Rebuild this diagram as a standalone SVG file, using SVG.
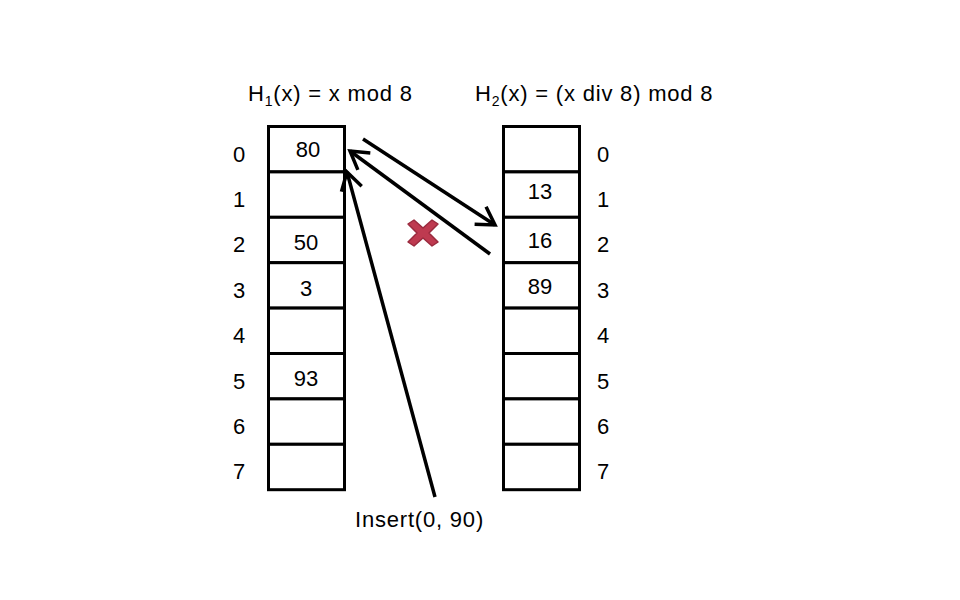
<svg xmlns="http://www.w3.org/2000/svg" width="960" height="600" viewBox="0 0 960 600">
<defs>
<style>
text{font-family:"Liberation Sans",Arial,sans-serif;font-size:22px;letter-spacing:0.8px;fill:#000}
.cell{fill:#fff;stroke:#000;stroke-width:3}
.num{text-anchor:middle;letter-spacing:0}
.arr{stroke:#000;stroke-width:3.5;fill:none;marker-end:url(#ah)}
</style>
<marker id="ah" markerWidth="8" markerHeight="8" refX="6" refY="4" orient="auto" markerUnits="strokeWidth" viewBox="0 0 8 8">
<path d="M1,1 L6,4 L1,7" fill="none" stroke="#000" stroke-width="1" stroke-linejoin="miter"/>
</marker>
</defs>
<rect width="960" height="600" fill="#fff"/>
<g id="title1"><text x="248" y="101">H<tspan font-size="14" dy="5">1</tspan><tspan dy="-5">(x) = x mod 8</tspan></text></g>
<g id="title2"><text x="475" y="101">H<tspan font-size="14" dy="5">2</tspan><tspan dy="-5">(x) = (x div 8) mod 8</tspan></text></g>
<g id="table1">
<rect class="cell" x="268.5" y="126.5" width="76" height="45.4"/>
<rect class="cell" x="268.5" y="171.9" width="76" height="45.4"/>
<rect class="cell" x="268.5" y="217.3" width="76" height="45.4"/>
<rect class="cell" x="268.5" y="262.7" width="76" height="45.4"/>
<rect class="cell" x="268.5" y="308.1" width="76" height="45.4"/>
<rect class="cell" x="268.5" y="353.5" width="76" height="45.4"/>
<rect class="cell" x="268.5" y="398.9" width="76" height="45.4"/>
<rect class="cell" x="268.5" y="444.3" width="76" height="45.4"/>
<text class="num" x="308" y="157">80</text>
<text class="num" x="306" y="250">50</text>
<text class="num" x="306" y="296">3</text>
<text class="num" x="306" y="386">93</text>
</g>
<g id="labels1">
<text class="num" x="239" y="162">0</text>
<text class="num" x="239" y="207">1</text>
<text class="num" x="239" y="252">2</text>
<text class="num" x="239" y="298">3</text>
<text class="num" x="239" y="343">4</text>
<text class="num" x="239" y="389">5</text>
<text class="num" x="239" y="434">6</text>
<text class="num" x="239" y="479">7</text>
</g>
<g id="table2">
<rect class="cell" x="503.5" y="126.5" width="76" height="45.4"/>
<rect class="cell" x="503.5" y="171.9" width="76" height="45.4"/>
<rect class="cell" x="503.5" y="217.3" width="76" height="45.4"/>
<rect class="cell" x="503.5" y="262.7" width="76" height="45.4"/>
<rect class="cell" x="503.5" y="308.1" width="76" height="45.4"/>
<rect class="cell" x="503.5" y="353.5" width="76" height="45.4"/>
<rect class="cell" x="503.5" y="398.9" width="76" height="45.4"/>
<rect class="cell" x="503.5" y="444.3" width="76" height="45.4"/>
<text class="num" x="540" y="199">13</text>
<text class="num" x="540" y="248">16</text>
<text class="num" x="540" y="294">89</text>
</g>
<g id="labels2">
<text class="num" x="603" y="162">0</text>
<text class="num" x="603" y="207">1</text>
<text class="num" x="603" y="252">2</text>
<text class="num" x="603" y="298">3</text>
<text class="num" x="603" y="343">4</text>
<text class="num" x="603" y="389">5</text>
<text class="num" x="603" y="434">6</text>
<text class="num" x="603" y="479">7</text>
</g>
<g id="connectors">
<line class="arr" x1="363" y1="139" x2="495" y2="225"/>
<line class="arr" x1="490" y1="254" x2="350" y2="151"/>
<line class="arr" x1="435" y1="497" x2="347" y2="172"/>
</g>
<g id="cross">
<path d="M408,224 L414,220 L423,228 L432,220 L438,224 L429,233 L438,242 L432,246 L423,238 L414,246 L408,242 L417,233 Z" fill="#be3a50" stroke="#9a2a3e" stroke-width="1.5" stroke-linejoin="round"/>
</g>
<g id="insert-label"><text x="355" y="527">Insert(0, 90)</text></g>
</svg>
